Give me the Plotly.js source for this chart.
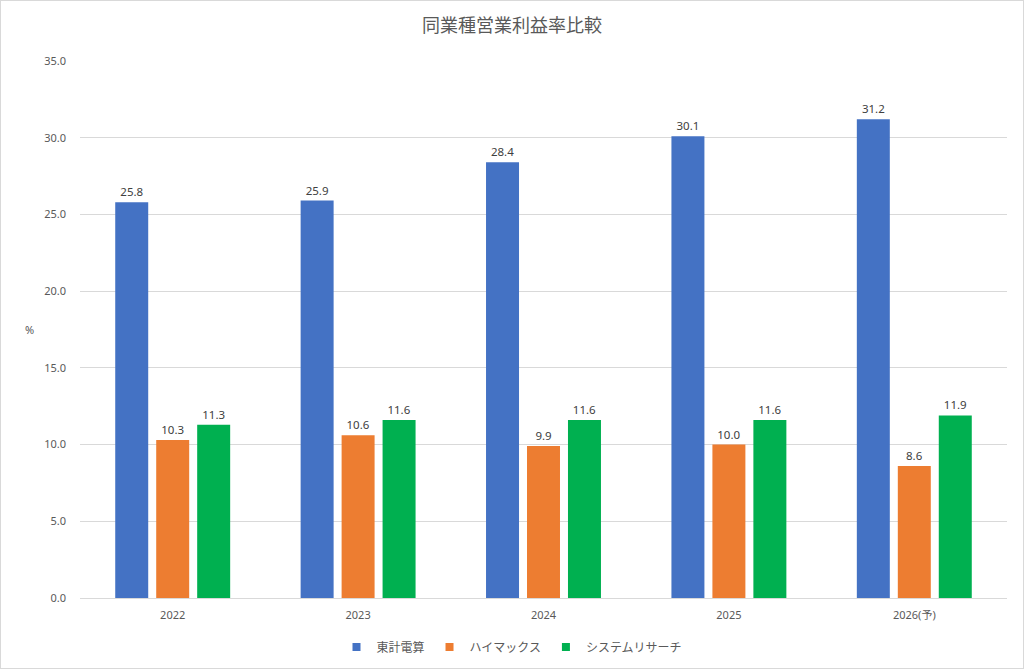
<!DOCTYPE html>
<html><head><meta charset="utf-8">
<script src="https://cdn.plot.ly/plotly-3.0.1.min.js"></script>
<style>
html,body{margin:0;padding:0;background:#fff;}
#wrap{position:absolute;left:0;top:0;width:1024px;height:669px;box-sizing:border-box;border:1px solid #d9d9d9;pointer-events:none;}
#chart{position:absolute;left:0;top:0;width:1024px;height:669px;}
</style></head>
<body>
<div id="chart"></div><div id="wrap"></div>
<script>
const categories = ["2022","2023","2024","2025","2026(予)"];
const seriesNames = ["東計電算","ハイマックス","システムリサーチ"];
const toukei = [25.8,25.9,28.4,30.1,31.2];
const himacs = [10.3,10.6,9.9,10.0,8.6];
const sysresearch = [11.3,11.6,11.6,11.6,11.9];
const colors = ["#4472c4","#ed7d31","#00b050"];
const yTicks = [0,5,10,15,20,25,30,35];

const FONT = '"Noto Sans", "Noto Sans CJK JP", sans-serif';
const JP = '"Noto Sans CJK JP", sans-serif';
const vals = [toukei, himacs, sysresearch];
const traces = vals.map((v,i)=>({
  type:'bar', name:seriesNames[i], x:categories, y:v,
  marker:{color:colors[i]},
  text:v.map(d=>d.toFixed(1)), textposition:'outside',
  textfont:{size:11.5, color:'#404040', family:FONT},
  cliponaxis:false, hoverinfo:'none', showlegend:false
}));
// legend entries (small square markers like the reference)
seriesNames.forEach((n,i)=>traces.push({
  type:'scatter', mode:'markers', name:n, x:[null], y:[null],
  marker:{symbol:'square', size:8, color:colors[i]}, hoverinfo:'none', showlegend:true
}));

const layout = {
  width:1024, height:669,
  margin:{l:80, r:17, t:61, b:71, autoexpand:false},
  paper_bgcolor:'#fff', plot_bgcolor:'#fff',
  font:{family:FONT, color:'#595959', size:11},
  title:{text:'同業種営業利益率比較', font:{size:18, color:'#595959', family:JP}, x:0.5, xanchor:'center', y:0.962, yanchor:'middle'},
  barmode:'group', bargap:0.337, bargroupgap:0.195,
  showlegend:true,
  legend:{orientation:'h', x:0.5, xanchor:'center', xref:'container', yref:'container', y:22/669, yanchor:'middle', font:{size:12, color:'#595959', family:JP}, itemwidth:30, traceorder:'normal'},
  xaxis:{type:'category', showgrid:false, showline:true, linecolor:'#d9d9d9', linewidth:1, ticks:'', tickfont:{size:11,color:'#595959'}, ticklabelstandoff:7},
  yaxis:{range:[0,35], tickvals:yTicks, ticktext:yTicks.map(t=>t.toFixed(1)), showgrid:true, gridcolor:'#d9d9d9', gridwidth:1, zeroline:false, showline:false, ticks:'', tickfont:{size:11,color:'#595959'}, ticklabelstandoff:13},
  annotations:[{text:'%', xref:'paper', yref:'paper', x:-0.055, y:0.5, xanchor:'center', yanchor:'middle', showarrow:false, font:{size:11, color:'#595959'}}]
};
Plotly.newPlot('chart', traces, layout, {staticPlot:true, displayModeBar:false});
</script>
</body></html>
